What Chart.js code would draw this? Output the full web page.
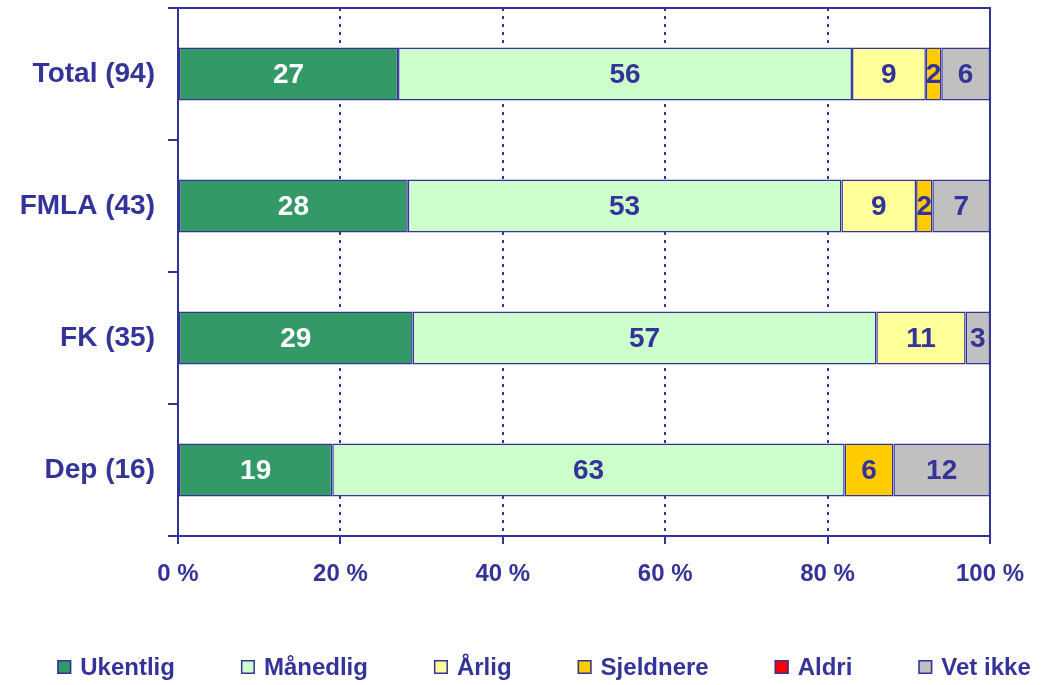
<!DOCTYPE html>
<html>
<head>
<meta charset="utf-8">
<script src="https://cdn.jsdelivr.net/npm/chart.js@4/dist/chart.umd.min.js"></script>
<style>
    html, body { margin: 0; padding: 0; background: #fff; }
    #wrap { width: 1042px; height: 685px; }
</style>
</head>
<body>
<div id="wrap"><canvas id="myChart" width="1042" height="685"></canvas></div>
<script>
// data (percent of each group, bars add up to 100)
const groups = ['Total (94)', 'FMLA (43)', 'FK (35)', 'Dep (16)'];
const ukentlig = [27.1, 28.3, 28.9, 19.0];
const maanedlig = [55.9, 53.4, 57.1, 63.1];
const aarlig = [9.1, 9.2, 11.0, 0];
const sjeldnere = [1.9, 2.0, 0, 6.0];
const aldri = [0, 0, 0, 0];
const vetIkke = [6.0, 7.1, 3.0, 11.9];
const xTicks = [0, 20, 40, 60, 80, 100];

const navy = '#333399';
const font = '"Liberation Sans", Arial, sans-serif';

const series = [
    { label: 'Ukentlig', data: ukentlig, color: '#339966', text: '#ffffff' },
    { label: 'Månedlig', data: maanedlig, color: '#ccffcc', text: navy },
    { label: 'Årlig', data: aarlig, color: '#ffff99', text: navy },
    { label: 'Sjeldnere', data: sjeldnere, color: '#ffcc00', text: navy },
    { label: 'Aldri', data: aldri, color: '#ff0000', text: navy },
    { label: 'Vet ikke', data: vetIkke, color: '#c0c0c0', text: navy },
];

// numbers inside the bar pieces
const barLabels = {
    id: 'barLabels',
    afterDatasetsDraw(chart) {
        const ctx = chart.ctx;
        ctx.save();
        ctx.font = `bold 28px ${font}`;
        ctx.textAlign = 'center';
        ctx.textBaseline = 'middle';
        chart.data.datasets.forEach((ds, i) => {
            chart.getDatasetMeta(i).data.forEach((bar, j) => {
                const v = ds.data[j];
                if (v < 0.5) return;
                ctx.fillStyle = series[i].text;
                ctx.fillText(Math.round(v), (bar.x + bar.base) / 2, bar.y + 1);
            });
        });
        ctx.restore();
    }
};

// top and right edge of the plot area
const frame = {
    id: 'frame',
    beforeDatasetsDraw(chart) {
        const { ctx, chartArea: a } = chart;
        ctx.save();
        ctx.strokeStyle = navy;
        ctx.lineWidth = 2;
        ctx.beginPath();
        ctx.moveTo(a.left, a.top);
        ctx.lineTo(a.right, a.top);
        ctx.lineTo(a.right, a.bottom);
        ctx.stroke();
        ctx.restore();
    }
};

// legend row at the bottom, spread wide like the original
const bottomLegend = {
    id: 'bottomLegend',
    afterDraw(chart) {
        const ctx = chart.ctx;
        const box = 14, gap = 9, spacing = 66, y = 667;
        ctx.save();
        ctx.font = `bold 24px ${font}`;
        ctx.textBaseline = 'middle';
        const widths = series.map(s => box + gap + ctx.measureText(s.label).width);
        const total = widths.reduce((a, b) => a + b, 0) + spacing * (series.length - 1);
        let x = 544 - total / 2;
        series.forEach((s, i) => {
            ctx.fillStyle = s.color;
            ctx.fillRect(x, y - box / 2, box, box);
            ctx.strokeStyle = navy;
            ctx.lineWidth = 1.5;
            ctx.strokeRect(x + 0.75, y - box / 2 + 0.75, box - 1.5, box - 1.5);
            ctx.fillStyle = navy;
            ctx.fillText(s.label, x + box + gap, y + 1);
            x += widths[i] + spacing;
        });
        ctx.restore();
    }
};

const ctx = document.getElementById('myChart').getContext('2d');

const myChart = new Chart(ctx, {
    type: 'bar',
    data: {
        labels: groups,
        datasets: series.map(s => ({
            label: s.label,
            data: s.data,
            backgroundColor: s.color,
            borderColor: navy,
            borderWidth: 1.5,
            borderSkipped: false,
            barPercentage: 0.4,
            categoryPercentage: 1,
        }))
    },
    options: {
        indexAxis: 'y',
        responsive: false,
        animation: false,
        layout: {
            padding: { top: 8, right: 52, bottom: 99, left: 0 }
        },
        plugins: {
            legend: { display: false },
            tooltip: { enabled: false },
        },
        scales: {
            x: {
                stacked: true,
                min: 0,
                max: 100,
                afterBuildTicks: (scale) => { scale.ticks = xTicks.map(v => ({ value: v })); },
                afterFit: (scale) => { scale.height = 50; },
                ticks: {
                    color: navy,
                    font: { family: font, size: 24, weight: 'bold' },
                    padding: 16,
                    callback: (v) => v + ' %',
                    maxRotation: 0,
                },
                grid: {
                    color: navy,
                    lineWidth: 2,
                    tickBorderDash: [],
                    tickLength: 8,
                },
                border: { color: navy, width: 2, dash: [3, 5] },
            },
            y: {
                stacked: true,
                afterFit: (scale) => {
                    scale.width = 178;
                    scale.paddingTop = 0;
                    scale.paddingBottom = 0;
                },
                ticks: {
                    color: navy,
                    font: { family: font, size: 28, weight: 'bold' },
                    padding: 13,
                },
                grid: {
                    offset: true,
                    drawOnChartArea: false,
                    color: navy,
                    lineWidth: 2,
                    tickLength: 10,
                },
                border: { color: navy, width: 2 },
            }
        }
    },
    plugins: [frame, barLabels, bottomLegend]
});
</script>
</body>
</html>
